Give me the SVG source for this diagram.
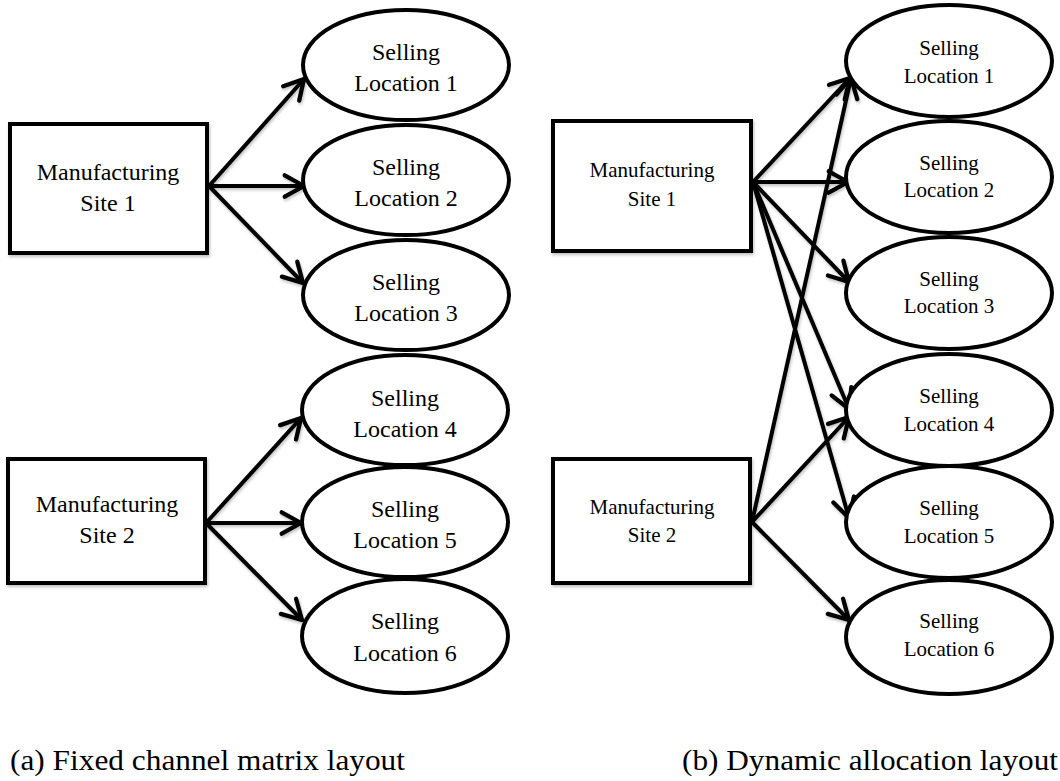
<svg xmlns="http://www.w3.org/2000/svg" width="1060" height="781" viewBox="0 0 1060 781">
<style>
.box{fill:#fff;stroke:#000;stroke-width:4}
.ell{fill:#fff;stroke:#000;stroke-width:4}
text{font-family:'Times New Roman','Liberation Serif',Tinos,'Nimbus Roman',Times,serif;fill:#000}
.tl{font-size:24px;text-anchor:middle}
.tr{font-size:21px;text-anchor:middle}
.cap{font-size:29px}
.con line{stroke:#000;stroke-width:4;marker-end:url(#ah)}
</style>
<defs>
<filter id="sh" x="-10%" y="-10%" width="130%" height="130%">
<feDropShadow dx="1" dy="2" stdDeviation="1.5" flood-color="#000" flood-opacity="0.25"/>
</filter>
<marker id="ah" markerUnits="userSpaceOnUse" markerWidth="30" markerHeight="30" viewBox="-22 -14 26 28" refX="0" refY="0" orient="auto">
<path d="M-18,-10 L0,0 L-18,10" fill="none" stroke="#000" stroke-width="4" stroke-linecap="round" stroke-linejoin="round"/>
</marker>
</defs>
<rect width="1060" height="781" fill="#fff"/>

<g class="con" id="connectors" filter="url(#sh)">
<line x1="209" y1="186" x2="304" y2="79"/>
<line x1="209" y1="186" x2="304" y2="186"/>
<line x1="209" y1="186" x2="303" y2="283"/>
<line x1="206" y1="523" x2="301" y2="418"/>
<line x1="206" y1="523" x2="301" y2="523"/>
<line x1="206" y1="523" x2="302" y2="620"/>
<line x1="753" y1="182" x2="850" y2="78"/>
<line x1="753" y1="182" x2="848" y2="182"/>
<line x1="753" y1="182" x2="849" y2="282"/>
<line x1="753" y1="182" x2="849" y2="409"/>
<line x1="753" y1="182" x2="849" y2="518"/>
<line x1="752" y1="522" x2="851" y2="78"/>
<line x1="752" y1="522" x2="849" y2="417"/>
<line x1="752" y1="522" x2="849" y2="620"/>
</g>

<g id="a-site1" filter="url(#sh)"><rect class="box" x="10" y="124" width="197" height="129"/></g>
<g id="a-site1-text"><text class="tl" x="108" y="180">Manufacturing</text><text class="tl" x="108" y="211">Site 1</text></g>
<g id="a-site2" filter="url(#sh)"><rect class="box" x="8" y="459" width="197" height="124"/></g>
<g id="a-site2-text"><text class="tl" x="107" y="512">Manufacturing</text><text class="tl" x="107" y="543">Site 2</text></g>

<g id="a-loc1"><ellipse class="ell" cx="406" cy="65" rx="103" ry="55"/><text class="tl" x="406" y="60">Selling</text><text class="tl" x="406" y="91">Location 1</text></g>
<g id="a-loc2"><ellipse class="ell" cx="406" cy="180" rx="103" ry="55"/><text class="tl" x="406" y="175">Selling</text><text class="tl" x="406" y="206">Location 2</text></g>
<g id="a-loc3"><ellipse class="ell" cx="406" cy="295" rx="103" ry="55"/><text class="tl" x="406" y="290">Selling</text><text class="tl" x="406" y="321">Location 3</text></g>
<g id="a-loc4"><ellipse class="ell" cx="405" cy="410" rx="103" ry="55"/><text class="tl" x="405" y="406">Selling</text><text class="tl" x="405" y="437">Location 4</text></g>
<g id="a-loc5"><ellipse class="ell" cx="405" cy="522" rx="103" ry="55"/><text class="tl" x="405" y="517">Selling</text><text class="tl" x="405" y="548">Location 5</text></g>
<g id="a-loc6"><ellipse class="ell" cx="405" cy="636" rx="103" ry="57"/><text class="tl" x="405" y="629">Selling</text><text class="tl" x="405" y="661">Location 6</text></g>

<g id="b-site1" filter="url(#sh)"><rect class="box" x="553" y="121" width="198" height="130"/></g>
<g id="b-site1-text"><text class="tr" x="652" y="177">Manufacturing</text><text class="tr" x="652" y="206">Site 1</text></g>
<g id="b-site2" filter="url(#sh)"><rect class="box" x="553" y="459" width="197" height="124"/></g>
<g id="b-site2-text"><text class="tr" x="652" y="514">Manufacturing</text><text class="tr" x="652" y="542">Site 2</text></g>

<g id="b-loc1"><ellipse class="ell" cx="949" cy="61" rx="103" ry="56"/><text class="tr" x="949" y="55">Selling</text><text class="tr" x="949" y="83">Location 1</text></g>
<g id="b-loc2"><ellipse class="ell" cx="949" cy="177" rx="103" ry="56"/><text class="tr" x="949" y="170">Selling</text><text class="tr" x="949" y="197">Location 2</text></g>
<g id="b-loc3"><ellipse class="ell" cx="949" cy="293" rx="103" ry="56"/><text class="tr" x="949" y="286">Selling</text><text class="tr" x="949" y="313">Location 3</text></g>
<g id="b-loc4"><ellipse class="ell" cx="949" cy="410" rx="103" ry="56"/><text class="tr" x="949" y="403">Selling</text><text class="tr" x="949" y="431">Location 4</text></g>
<g id="b-loc5"><ellipse class="ell" cx="949" cy="522" rx="103" ry="56"/><text class="tr" x="949" y="515">Selling</text><text class="tr" x="949" y="543">Location 5</text></g>
<g id="b-loc6"><ellipse class="ell" cx="949" cy="637" rx="103" ry="57"/><text class="tr" x="949" y="628">Selling</text><text class="tr" x="949" y="656">Location 6</text></g>

<text class="cap" x="10" y="770" textLength="395" lengthAdjust="spacingAndGlyphs">(a) Fixed channel matrix layout</text>
<text class="cap" x="682" y="770" textLength="376" lengthAdjust="spacingAndGlyphs">(b) Dynamic allocation layout</text>
</svg>
